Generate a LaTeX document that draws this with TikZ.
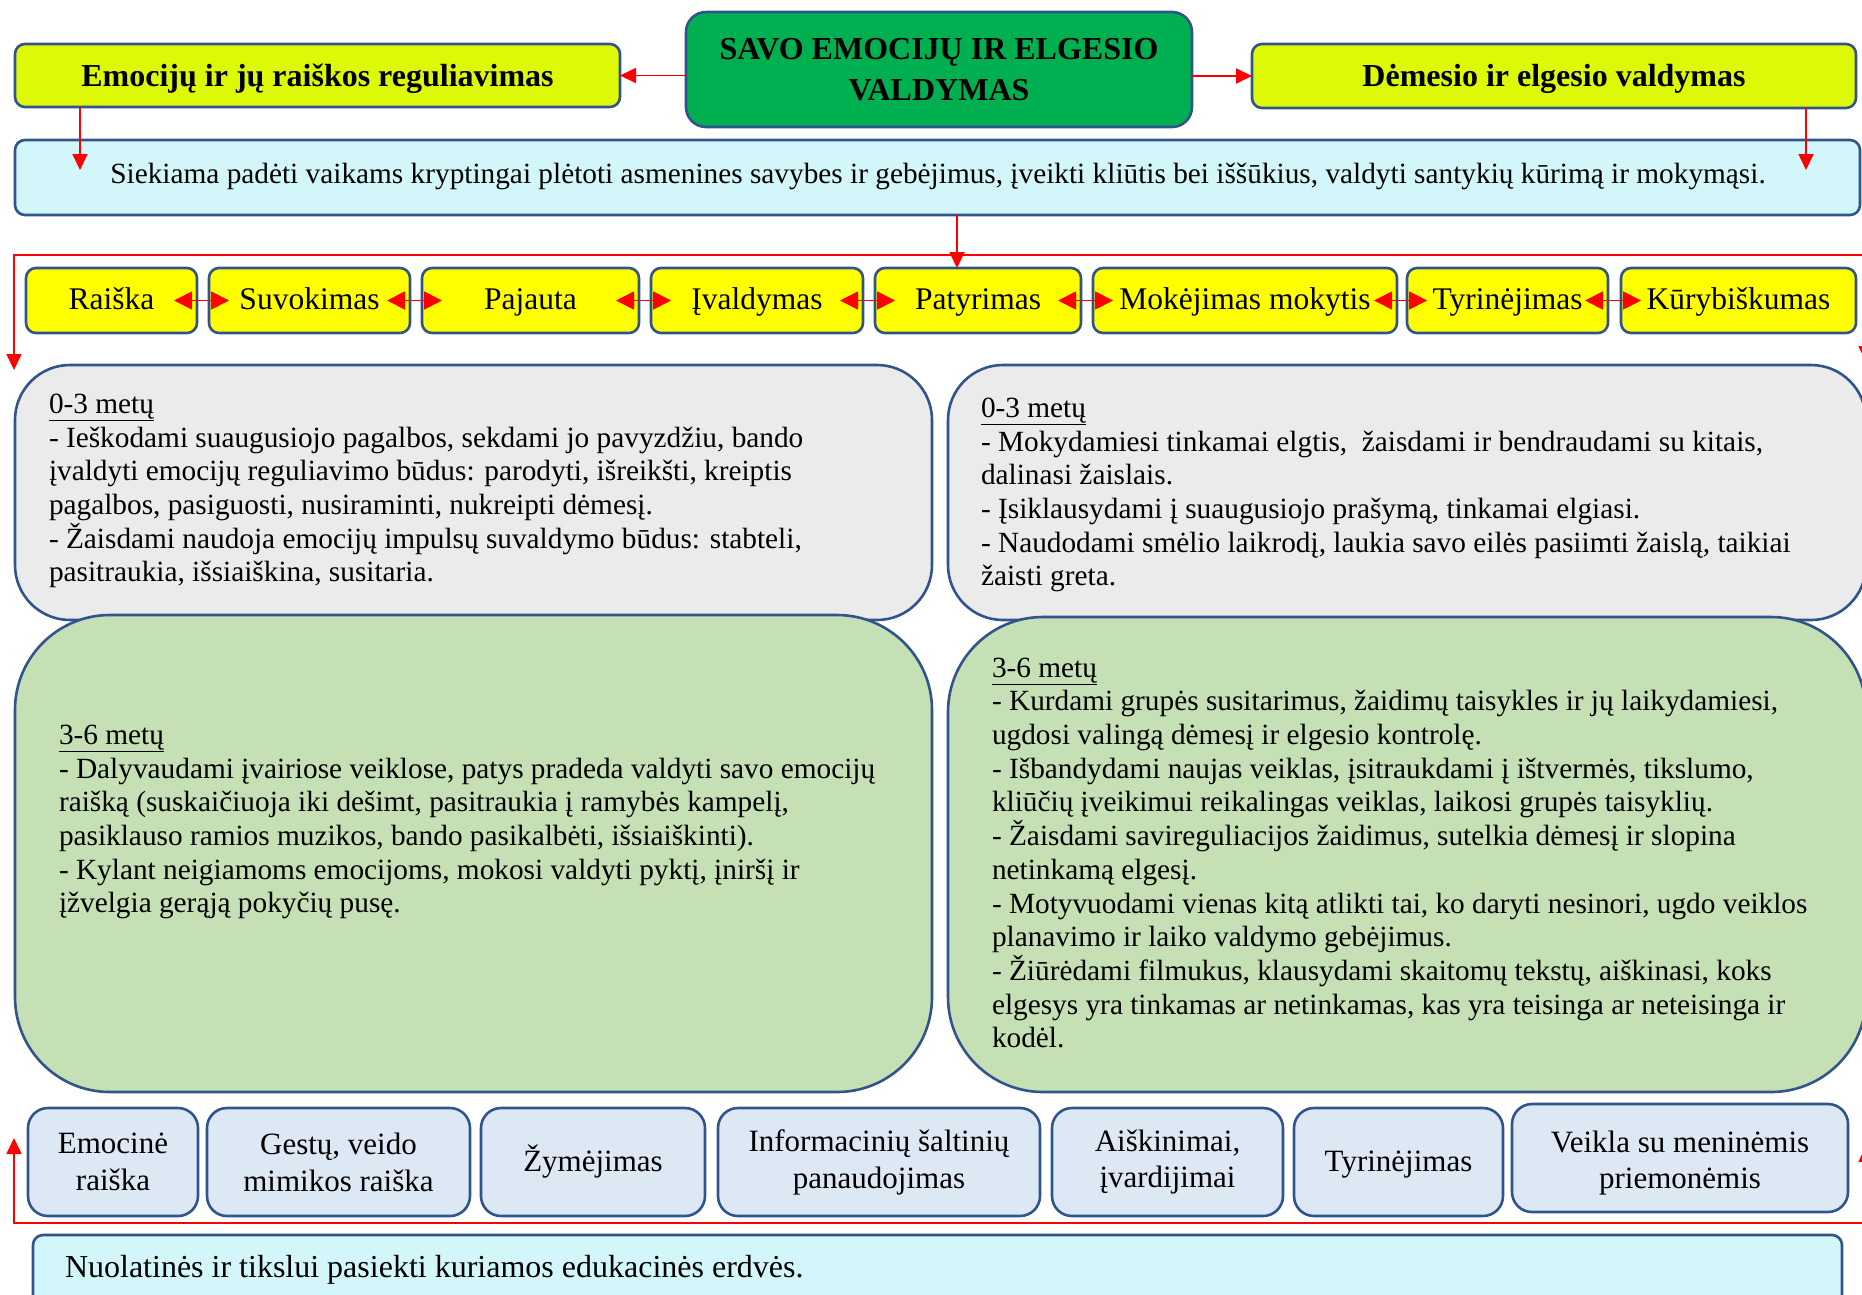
\documentclass[tikz,border=0pt]{standalone}
\usepackage{fontspec}
\setmainfont{Liberation Serif}
\usetikzlibrary{arrows.meta}
\definecolor{limey}{RGB}{222,249,8}
\definecolor{titlegreen}{RGB}{0,176,80}
\definecolor{rowyellow}{RGB}{255,255,0}
\definecolor{cyanfill}{RGB}{210,246,250}
\definecolor{greyfill}{RGB}{235,235,235}
\definecolor{greenfill}{RGB}{197,224,180}
\definecolor{bluefill}{RGB}{221,232,245}
\definecolor{bord}{RGB}{50,84,140}
\newcommand\myBody{\fontsize{29.3pt}{33.7pt}\selectfont}
\newcommand\myRow{\fontsize{31.5pt}{36pt}\selectfont}
\newcommand\myBold{\bfseries\fontsize{32pt}{41.5pt}\selectfont}
\newcommand\myBot{\fontsize{31pt}{36.8pt}\selectfont}
\newcommand\myFoot{\fontsize{32pt}{36pt}\selectfont}
\begin{document}
\begin{tikzpicture}[x=1pt,y=-1pt,
  bx/.style={draw=bord, line width=2.6pt, rounded corners=#1, inner sep=0pt, outer sep=0pt, align=center},
  bx/.default=10pt,
  rowbox/.style={bx=10pt, fill=rowyellow, minimum height=65pt, font=\myRow, text height=23pt, text depth=5pt},
  botbox/.style={bx=20pt, fill=bluefill, minimum height=108pt, font=\myBot},
  txt/.style={inner sep=0pt, outer sep=0pt, align=left, font=\myBody, anchor=west},
  rline/.style={draw=red, line width=1.8pt},
  ra/.style={rline, -{Triangle[length=16pt,width=15pt]}},
  rboth/.style={rline, {Triangle[length=16pt,width=15pt]}-{Triangle[length=16pt,width=15pt]}},
  rrow/.style={rline, {Triangle[length=18pt,width=18pt]}-{Triangle[length=18pt,width=18pt]}}
]
\useasboundingbox (0,0) rectangle (1862,1294);
\fill[white] (0,0) rectangle (1862,1294);

% top row
\node[bx=10pt, fill=limey, minimum width=605pt, minimum height=63pt, font=\myBold, text height=25pt, text depth=4pt] (ly) at (317.5,75.5) {Emocijų ir jų raiškos reguliavimas};
\node[bx=20pt, fill=titlegreen, minimum width=506pt, minimum height=115pt, font=\myBold] (title) at (939,69.5) {SAVO EMOCIJŲ IR ELGESIO\\VALDYMAS};
\node[bx=10pt, fill=limey, minimum width=604pt, minimum height=64pt, font=\myBold, text height=25pt, text depth=4pt] (ry) at (1554,76) {Dėmesio ir elgesio valdymas};

% cyan band
\node[bx=10pt, fill=cyanfill, minimum width=1845pt, minimum height=75pt] (cyan) at (937.5,177.5) {};
\node[txt, anchor=center] (cyant) at (938,176) {Siekiama padėti vaikams kryptingai plėtoti asmenines savybes ir gebėjimus, įveikti kliūtis bei iššūkius, valdyti santykių kūrimą ir mokymąsi.};

\draw[ra] (title.west |- ly.east) -- (ly.east);
\draw[ra] (title.east |- ry.west) -- (ry.west);
\coordinate (lyend) at (80,170);
\coordinate (ryend) at (1806,170);
\draw[ra] (ly.south west -| lyend) -- (lyend);
\draw[ra] (ry.south west -| ryend) -- (ryend);

% yellow row
\node[rowbox, minimum width=171pt] (r1) at (111.5,300.5) {Raiška};
\node[rowbox, minimum width=201pt] (r2) at (309.5,300.5) {Suvokimas};
\node[rowbox, minimum width=217pt] (r3) at (530.5,300.5) {Pajauta};
\node[rowbox, minimum width=212pt] (r4) at (757,300.5) {Įvaldymas};
\node[rowbox, minimum width=206pt] (r5) at (978,300.5) {Patyrimas};
\node[rowbox, minimum width=304pt] (r6) at (1245,300.5) {Mokėjimas mokytis};
\node[rowbox, minimum width=201pt] (r7) at (1507.5,300.5) {Tyrinėjimas};
\node[rowbox, minimum width=235pt] (r8) at (1738.5,300.5) {Kūrybiškumas};
\foreach \a/\b in {r1/r2,r2/r3,r3/r4,r4/r5,r5/r6,r6/r7,r7/r8}
  \draw[rrow] ([xshift=-23pt]\a.east) -- ([xshift=20pt]\b.west);

\coordinate (cx) at (957,0);
\draw[ra] (cyan.south -| cx) -- (r5.north -| cx);
\coordinate (tl) at (14,370);
\coordinate (tm) at (1866,255);
\coordinate (tr) at (1866,362);
\draw[rboth] (tl) |- (tm) -- (tr);

% grey boxes
\node[bx=55pt, fill=greyfill, minimum width=917pt, minimum height=255pt] (g1) at (473.5,492.5) {};
\node[bx=55pt, fill=greyfill, minimum width=918pt, minimum height=255pt] (g2) at (1407,492.5) {};
% green boxes
\node[bx=95pt, fill=greenfill, minimum width=917pt, minimum height=477pt] (e1) at (473.5,853.5) {};
\node[bx=95pt, fill=greenfill, minimum width=918pt, minimum height=475pt] (e2) at (1407,854.5) {};

\node[txt] (g1t) at (49,491) {\underline{0-3 metų}\\
- Ieškodami suaugusiojo pagalbos, sekdami jo pavyzdžiu, bando\\
įvaldyti emocijų reguliavimo būdus: parodyti, išreikšti, kreiptis\\
pagalbos, pasiguosti, nusiraminti, nukreipti dėmesį.\\
- Žaisdami naudoja emocijų impulsų suvaldymo būdus: stabteli,\\
pasitraukia, išsiaiškina, susitaria.};

\node[txt] (g2t) at (981,495) {\underline{0-3 metų}\\
- Mokydamiesi tinkamai elgtis,\ \ žaisdami ir bendraudami su kitais,\\
dalinasi žaislais.\\
- Įsiklausydami į suaugusiojo prašymą, tinkamai elgiasi.\\
- Naudodami smėlio laikrodį, laukia savo eilės pasiimti žaislą, taikiai\\
žaisti greta.};

\node[txt] (e1t) at (59,822) {\underline{3-6 metų}\\
- Dalyvaudami įvairiose veiklose, patys pradeda valdyti savo emocijų\\
raišką (suskaičiuoja iki dešimt, pasitraukia į ramybės kampelį,\\
pasiklauso ramios muzikos, bando pasikalbėti, išsiaiškinti).\\
- Kylant neigiamoms emocijoms, mokosi valdyti pyktį, įniršį ir\\
įžvelgia gerąją pokyčių pusę.};

\node[txt] (e2t) at (992,853) {\underline{3-6 metų}\\
- Kurdami grupės susitarimus, žaidimų taisykles ir jų laikydamiesi,\\
ugdosi valingą dėmesį ir elgesio kontrolę.\\
- Išbandydami naujas veiklas, įsitraukdami į ištvermės, tikslumo,\\
kliūčių įveikimui reikalingas veiklas, laikosi grupės taisyklių.\\
- Žaisdami savireguliacijos žaidimus, sutelkia dėmesį ir slopina\\
netinkamą elgesį.\\
- Motyvuodami vienas kitą atlikti tai, ko daryti nesinori, ugdo veiklos\\
planavimo ir laiko valdymo gebėjimus.\\
- Žiūrėdami filmukus, klausydami skaitomų tekstų, aiškinasi, koks\\
elgesys yra tinkamas ar netinkamas, kas yra teisinga ar neteisinga ir\\
kodėl.};

% bottom row
\node[botbox, minimum width=170pt] (b1) at (113,1162) {Emocinė\\raiška};
\node[botbox, minimum width=263pt] (b2) at (338.5,1162) {Gestų, veido\\mimikos raiška};
\node[botbox, minimum width=224pt, text height=23pt, text depth=5pt] (b3) at (593,1162) {Žymėjimas};
\node[botbox, minimum width=322pt] (b4) at (879,1162) {Informacinių šaltinių\\panaudojimas};
\node[botbox, minimum width=231pt] (b5) at (1167.5,1162) {Aiškinimai,\\įvardijimai};
\node[botbox, minimum width=209pt, text height=23pt, text depth=5pt] (b6) at (1398.5,1162) {Tyrinėjimas};
\node[botbox, minimum width=336pt] (b7) at (1680,1158) {};
\node[inner sep=0pt, align=center, font=\myBot] (b7t) at (1680,1163) {Veikla su meninėmis\\priemonėmis};

\coordinate (bl) at (14,1138);
\coordinate (bm) at (1866,1223);
\coordinate (br) at (1866,1146);
\draw[rboth] (bl) |- (bm) -- (br);

% bottom cyan band
\node[bx=10pt, fill=cyanfill, minimum width=1809pt, minimum height=80pt] (bc) at (937.5,1275) {};
\node[txt, font=\myFoot] (bct) at (65,1270) {Nuolatinės ir tikslui pasiekti kuriamos edukacinės erdvės.};
\end{tikzpicture}
\end{document}
